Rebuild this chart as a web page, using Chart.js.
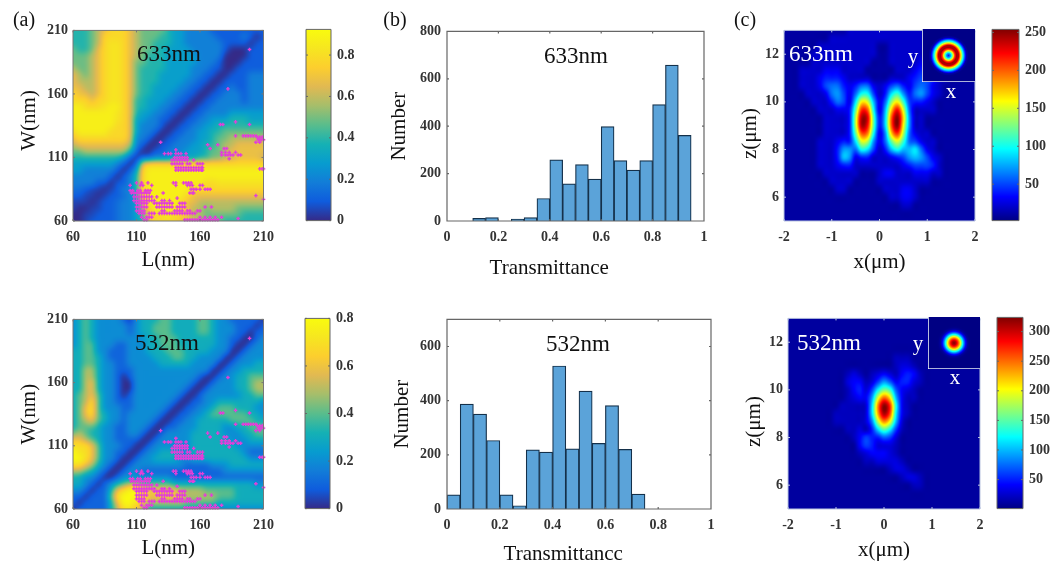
<!DOCTYPE html>
<html><head><meta charset="utf-8">
<script src="https://cdn.jsdelivr.net/npm/chart.js@4"></script>
<style>
html,body{margin:0;padding:0;background:#fff;width:1051px;height:567px;overflow:hidden}
#stage{position:relative;width:1051px;height:567px;filter:blur(.45px)}
#stage canvas{position:absolute}
.t{position:absolute;font-family:"Liberation Serif",serif;color:#111;white-space:nowrap;transform:translate(-50%,-50%);line-height:1}
</style></head><body><div id="stage"></div>
<script>
// ---------- histogram data ----------
const binCentres=[0.025,0.075,0.125,0.175,0.225,0.275,0.325,0.375,0.425,0.475,0.525,0.575,0.625,0.675,0.725,0.775,0.825,0.875,0.925,0.975];
const count633=[0,0,11,14,0,8,14,95,258,157,238,177,398,255,215,255,491,658,361,0];
const count532=[52,387,350,253,52,12,218,210,528,222,435,242,382,220,55,0,0,0,0,0];
const histXTicks=[0,0.2,0.4,0.6,0.8,1];
const hist633YTicks=[0,200,400,600,800];
const hist532YTicks=[0,200,400,600];
// ---------- transmittance maps (tenths), rows W=210..60, columns L=60..210 ----------
const lengthNm=[60,65,70,75,80,85,90,95,100,105,110,115,120,125,130,135,140,145,150,155,160,165,170,175,180,185,190,195,200,205,210];
const widthNm=[210,205,200,195,190,185,180,175,170,165,160,155,150,145,140,135,130,125,120,115,110,105,100,95,90,85,80,75,70,65,60];
const mapTicks=[60,110,160,210];
const transmit633=[
[4,4,4,5,6,7,8,8,8,7,6,5,5,5,5,4,3,3,2,2,2,2,1,1,1,1,1,1,1,1,1],
[4,4,4,5,6,8,8,8,8,7,6,5,5,5,4,4,3,3,2,2,2,2,2,1,1,1,1,2,1,0,1],
[4,4,4,5,6,8,8.5,8.5,8,7,6,5,5,4,4,4,3,3,2,2,2,2,2,2,1,1,1,1,0,1,1],
[5,4,4,5,7,8,8.5,8.5,8,7,6,5,5,4,4,3,3,3,3,2,2,2,2,2,1,0,0,0,1,1,1],
[5,5,5,6,7,8,8.5,8.5,8,7,6,5,4,4,4,3,3,3,3,3,2,2,2,2,0,0,0,0,1,1,1],
[5,5,5,6,7,8,8.5,8.5,8,7,5,5,4,4,4,3,3,3,3,3,2,2,2,1,0,0,0,1,1,1,1],
[6,5,5,6,7,8,8.5,8.5,8,7,5,4,4,4,4,3,3,3,3,2,2,2,1,1,0,0,1,1,1,1,1],
[7,6,5,6,7,8,8.5,8.5,8,7,5,4,4,4,3,3,3,3,3,2,2,1,1,0,0,1,1,1,2,2,2],
[7,6,6,6,7,8,8.5,8.5,8,7,5,4,4,4,3,3,3,3,2,2,1,1,0,0,1,1,1,1,2,2,2],
[7,7,6,6,7,8,8.5,8.5,8,7,5,4,4,3,3,3,3,2,2,1,1,0,0,1,1,2,1,1,2,2,2],
[8,7,7,6,7,8,8.5,8.5,8,7,5,4,4,3,3,3,2,2,1,1,0,0,1,1,2,2,2,1,2,2,2],
[8,8,8,7,8,8,8.5,8.5,8,7,4,4,3,3,3,2,2,1,1,0,0,1,1,2,2,2,2,1,2,2,2],
[9,9,8,8,8,8.5,9,9,8,7,4,4,3,3,2,2,1,1,0,0,1,1,2,2,2,2,2,2,2,2,2],
[9,9,9,9,9,9,9,8.5,8,7,4,3,3,2,2,1,1,0,0,1,1,2,2,2,2,3,3,3,3,3,3],
[9,9,9,9,9,9,9,8.5,8,7,3,3,2,2,1,1,0,0,1,1,2,2,3,3,3,4,4,4,3,3,3],
[9,9,9,9,9,9,9,8,8,7,3,2,2,2,1,0,0,1,1,2,2,3,3,4,4,4,4,4,4,4,4],
[8,9,9,9,9,9,8,8,8,7,3,2,2,1,0,0,1,1,2,2,3,3,4,4,5,5,5,5,5,5,5],
[7,8,8,8,8,8,8,8,8,7,2,2,1,0,0,1,1,2,2,2,3,3,4,5,5,6,6,6,6,6,6],
[6,7,7,7,7,7,7,7,7,6,2,1,0,0,1,1,2,2,2,3,3,4,4,5,6,6,7,7,7,7,7],
[5,5,6,6,6,6,6,6,6,4,1,0,0,1,1,2,2,2,3,3,3,4,5,5,6,7,7,7,7,7,7],
[4,4,4,4,4,4,4,4,3,1,0,1,1,2,2,2,3,3,3,3,4,4,5,5,6,6,7,7,7,7,6],
[3,3,3,3,3,3,3,2,1,0,1,7,8,8,8,8,8,8,8,8,8,8,8,8,8,8,8,8,8,8,8],
[3,3,2,2,2,2,2,1,0,1,3,8,9,9,9,9,9,9,9,9,9,9,9,9,9,9,9,9,9,9,9],
[2,2,2,2,2,2,1,0,1,2,4,8,9,9,9,9,9,9,9,9,9,9,9,9,9,9,9,9,9,9,9],
[2,2,2,2,1,1,0,1,1,2,4,8,9,9,9,9,9,9,9,9,9,8,8,8.5,8.5,8.5,8.5,8.5,8.5,8.5,8.5],
[1.5,1.5,1,0.5,0.5,0,0.5,1,2,2,4,8,9,9,9,9,9,9,9,8,8,8,8,8,8,8,8,8,8,8,8],
[1,1,0.5,0.5,0,0.5,1,1,1.5,2,4,8,9,9,9,9,9,9,8,7,7,7,7,7,7,7,7,7,7,7,7],
[0.5,0.5,0.5,0,0.5,1,1,1.5,2,2,3,7,9,9,9,9,9,8,7,7,6,6,6,6,6,6,6,6,6,6,6],
[0.5,0,0,0.5,0.5,1,1,1.5,2,2,3,6,8,9,9,9,9,8,7,6,6,5,6,6,6,6,5,5,5,5,5],
[0,0,0.5,0.5,1,1,1,1.5,2,2,3,5,7,8,8,9,8,8,7,6,6,5,5,5,5,5,5,4,4,4,4],
[0,0,0.5,1,1,1,1,1.5,2,2,3,4,7,8,8,8,8,7,7,6,6,5,5,5,4,4,4,4,4,4,4]];
const transmit532=[
[2,3,4,3,2,2,2,2,1,0,2,3,3,3,4,4,3,3,3,3,4,4,3,2,2,1,1,1,1,1,0],
[2,3,4,3,2,2,2,2,2,1,2,3,3,4,4,4,3,3,3,3,4,4,3,2,2,2,1,1,1,0,1],
[2,3,4,3,2,2,2,2,2,1,2,3,3,4,4,4,3,3,3,3,4,4,3,2,2,2,1,1,0,1,1],
[2,3,4,3,2,2,2,2,2,2,2,2,3,3,4,4,4,3,3,3,3,3,3,2,2,1,1,0,0,1,2],
[2,3,4,4,2,2,2,1,1,2,2,2,3,3,4,4,4,3,3,3,3,3,3,2,2,1,0,0,1,2,2],
[3,3,4,4,2,2,1,1,1,2,2,2,3,3,3,4,4,4,3,3,3,3,2,2,2,0,0,1,2,2,2],
[3,3,4,4,3,2,1,1,1,2,2,2,2,3,3,3,4,4,3,3,2,2,2,2,0,0,1,2,2,2,2],
[3,3,4,4,3,2,2,1,1,2,2,2,2,2,3,3,3,3,3,2,2,2,2,0,0,1,2,2,2,3,3],
[3,3,5,5,3,2,2,1,1,1,2,2,2,2,2,2,2,2,2,2,2,2,0,0,1,2,2,3,3,3,3],
[3,3,5,5,3,2,2,1,0,1,2,2,2,2,2,2,2,2,2,2,1,0,0,1,2,2,3,3,4,4,4],
[3,3,5,6,3,2,2,1,0,0,2,2,2,2,2,2,2,2,2,1,0,0,1,2,2,2,3,3,4,5,5],
[3,3,5,6,3,2,2,1,0,0,2,2,2,2,2,2,2,2,1,0,0,1,2,2,2,2,3,3,4,5,5],
[3,4,5,6,4,2,2,1,0,1,2,2,2,2,2,2,2,1,0,0,1,2,2,2,2,2,2,3,3,4,4],
[3,4,5,7,4,2,2,1,1,1,2,2,2,2,2,2,1,0,0,1,1,2,2,3,3,3,3,3,3,3,2],
[3,4,6,7,4,2,2,2,1,1,2,2,2,2,2,1,0,0,1,1,2,2,3,4,4,4,3,3,3,2,2],
[3,4,6,7,4,3,2,2,1,2,2,2,2,2,1,0,0,1,1,2,2,3,4,4,4,4,4,4,3,3,2],
[3,4,5,6,4,3,2,2,1,2,2,2,2,1,0,0,1,1,2,2,3,3,3,3,3,4,4,4,4,3,3],
[3,4,4,4,3,2,2,1,1,2,2,2,1,0,0,1,1,2,2,2,3,3,3,3,2,2,3,3,4,4,4],
[4,5,4,3,3,2,2,1,1,2,2,1,0,0,1,2,2,2,2,3,3,3,3,3,2,2,2,3,3,4,4],
[6,6,5,4,3,2,2,1,1,1,1,0,0,1,2,2,2,2,2,3,3,3,3,3,3,2,2,2,3,3,3],
[7,7,7,6,4,2,2,2,1,1,0,0,1,2,2,2,2,2,2,3,3,3,3,3,3,3,2,2,2,2,2],
[8,7,7,6,4,2,2,1,1,0,0,1,2,2,3,3,3,2,2,3,3,3,3,3,3,3,3,2,1,1,1],
[8,8,7,6,4,2,2,1,0,0,1,2,2,3,3,3,3,2,2,3,3,3,3,3,3,3,3,3,2,2,2],
[7,7,6,5,3,2,1,0,0,1,2,2,2,2,2,2,2,2,1,1,1,1,2,2,2,3,3,3,3,3,3],
[5,5,4,3,2,1,0,0,1,2,2,1,1,1,1,1,1,1,1,1,1,1,1,1,2,2,2,2,2,2,2],
[3,3,2,2,1,0,0,1,2,2,2,2,2,2,2,2,1,1,1,1,1,1,1,1,1,1,1,1,1,1,1],
[3,3,2,1,0,1,2,3,4,5,5,4,4,4,4,4,3,3,3,3,3,3,3,3,3,3,3,3,3,2,2],
[2,2,1,0,1,1,3,6,7,8,8,7,6,6,6,6,6,5,5,5,5,4,4,4,4,4,3,3,3,3,3],
[1,1,0,1,1,1,4,7,8,8,8,7,6,6,6,6,6,6,5,5,5,5,5,4,4,4,3,3,3,3,3],
[1,0,1,1,1,1,3,6,8,8,7,6,5,5,5,5,5,5,4,4,4,4,4,3,3,3,3,3,3,3,3],
[0,1,1,1,1,1,3,5,7,7,6,5,3,3,3,3,3,3,3,3,3,2,2,2,2,2,2,2,2,2,2]];
// selected designs: [W, [L, L, ...]]
const selectedDesigns=[
[61,[116,118,148,150,152,154,156,158,160,162,164,166,168,170,172,174]],[62,[190]],
[63,[114,118,120,122,160,164,168,172,177]],
[66,[112,114,116,120,122,124,128,130,132,134,136,138,140,142,144,146,148,150,152,154,156]],
[68,[110,112,114,116,130,132,140,142,144,146,150,152,158,160]],
[71,[110,112,114,116,118,126,128,130,132,134,136,138,142,144,146,148,164,169]],
[74,[110,112,114,116,118,124,126,128,130,132,134,136,138,144,146,148]],
[76,[108,110,112,114,116,118,120,122,124,130,132,136]],[78,[142]],[77,[210]],
[79,[108,110,112,114,116,118,120,122,126]],[80,[204]],
[82,[106,108,110,112,114,116,118,120,131,152,154,155]],
[84,[105,107,111,113,117,119,121]],
[85,[153,155,157,160,164,166,168]],
[88,[105,113,115,122,141,150,152,154,160,162]],
[90,[110,114,119,139,141,147,149,151,153]],
[100,[141,143,145,147,149,151,153,155,157,159,161,162]],[101,[207,209,210]],
[102,[141,143,145,147,149,151,153,155,157,159,161,162]],
[105,[138,140,142,144,146,150,152,158,160,162]],
[108,[138,140,142,144,146,148,150,155]],[109,[183]],
[110,[140,142,144,146,148,150]],
[112,[177,180,182,184,186,190,192]],
[113,[132,135,137,141,143,145,149]],
[114,[177,180,183,188]],[116,[141]],
[117,[168,179,181]],[120,[166,174]],[122,[129,204,207]],
[124,[206,208,210]],[126,[205,207,209]],
[127,[188,194,196,198,200,202,204]],
[136,[176,178,199]],[138,[188]],[164,[182]],[195,[199]]];
// ---------- focal field maps (tens of counts), rows z=13..5, columns x=-2..2 ----------
const fieldX=[-2,-1.875,-1.75,-1.625,-1.5,-1.375,-1.25,-1.125,-1,-0.875,-0.75,-0.625,-0.5,-0.375,-0.25,-0.125,0,0.125,0.25,0.375,0.5,0.625,0.75,0.875,1,1.125,1.25,1.375,1.5,1.625,1.75,1.875,2];
const fieldZ=[13,12.667,12.333,12,11.667,11.333,11,10.667,10.333,10,9.667,9.333,9,8.667,8.333,8,7.667,7.333,7,6.667,6.333,6,5.667,5.333,5];
const fieldXTicks=[-2,-1,0,1,2];
const fieldZTicks=[6,8,10,12];
const field633=[
[1,1,1,1,1,1,1,1,1,1,1,2,2,2,2,2,2,2,2,2,2,2,2,2,2,2,2,2,2,2,2,2,2],
[1,1,1,1,1,1,1,1,2,2,2,2,2,2,2,2,2,2,2,2,2,2,2,2,2,2,2,2,2,2,2,2,2],
[1,1,1,1,1,1,2,2,2,2,2,2,2,2,2,2,1,1,2,2,2,2,2,2,2,2,2,2,2,2,2,2,2],
[1,1,1,1,1,2,2,2,2,2,2,2,2,2,2,2,1,1,2,2,2,2,2,2,2,2,2,2,2,2,2,2,2],
[1,1,1,1,1,2,2,2,2,2,2,2,2,2,2,1,1,1,2,2,2,2,2,3,3,3,2,2,2,2,2,2,2],
[1,1,1,2,2,2,2,3,3,3,2,2,2,2,1,1,1,1,1,2,2,2,3,4,4,3,2,2,2,1,1,1,1],
[1,1,1,2,2,2,3,4,4,4,3,2,2,2,2,1,1,1,2,2,2,3,4,5,5,4,2,2,1,1,1,1,1],
[1,1,1,2,2,2,3,5,6,6,4,3,4,6,6,3,2,3,5,6,4,3,5,6,5,3,2,1,1,1,1,1,1],
[1,1,1,1,2,2,2,3,6,7,5,3,6,10,10,5,2,4,9,11,7,4,6,7,5,3,2,1,1,1,1,1,1],
[1,1,1,1,1,2,2,2,4,6,5,3,9,16,15,8,3,6,13,16,11,5,4,4,3,2,1,1,1,1,1,1,1],
[1,1,1,1,1,1,2,2,2,3,3,4,12,21,20,10,3,8,17,22,15,6,2,2,2,2,1,1,1,1,1,1,1],
[1,1,1,1,1,1,1,2,2,2,2,4,14,24,23,12,4,9,20,25,17,7,2,2,1,1,1,1,1,1,1,1,1],
[1,1,1,1,1,1,1,2,2,2,2,4,14,24,22,12,4,9,20,25,16,7,2,2,1,1,1,1,1,1,1,1,1],
[1,1,1,1,1,1,1,2,2,2,2,4,12,20,19,10,3,7,17,21,14,6,3,2,2,1,1,1,1,1,1,1,1],
[1,1,1,1,1,1,2,2,2,3,4,4,9,15,14,7,3,6,12,15,11,6,5,3,2,2,1,1,1,1,1,1,1],
[1,1,1,1,1,1,2,2,2,4,7,7,6,10,9,5,2,4,8,10,8,8,9,6,3,2,1,1,1,1,1,1,1],
[1,1,1,1,1,1,2,2,2,4,8,7,3,4,4,2,2,2,3,4,5,7,8,7,5,3,2,1,1,1,1,1,1],
[1,1,1,1,1,1,2,2,2,3,4,4,2,2,2,2,2,2,2,2,3,4,5,5,5,4,2,1,1,1,1,1,1],
[1,1,1,1,1,1,1,2,2,2,2,2,2,1,1,1,2,3,3,2,2,2,3,3,3,2,2,1,1,1,1,1,1],
[1,1,1,1,1,1,1,1,2,2,2,2,1,1,1,1,2,2,2,2,2,2,2,2,2,1,1,1,1,1,1,1,1],
[1,1,1,1,1,1,1,1,1,2,2,1,1,1,1,1,1,2,2,2,3,3,2,1,1,1,1,1,1,1,1,1,1],
[1,1,1,1,1,1,1,1,1,1,1,1,1,1,1,1,1,1,2,2,3,3,2,1,1,1,1,1,1,1,1,1,1],
[1,1,1,1,1,1,1,1,1,1,1,1,1,1,1,1,1,1,1,1,2,2,1,1,1,1,1,1,1,1,1,1,1],
[1,1,1,1,1,1,1,1,1,1,1,1,1,1,1,1,1,1,1,1,1,1,1,1,1,1,1,1,1,1,1,1,1],
[1,1,1,1,1,1,1,1,1,1,1,1,1,1,1,1,1,1,1,1,1,1,1,1,1,1,1,1,1,1,1,1,1]];
const field532=[
[1,1,1,1,1,1,1,1,1,1,1,1,1,1,1,1,1,1,1,1,1,1,1,1,1,1,1,1,1,1,1,1,1],
[1,1,1,1,1,1,1,1,1,1,1,1,1,1,1,1,1,1,1,1,1,1,1,1,1,1,1,1,1,1,1,1,1],
[1,1,1,1,1,1,1,1,1,1,1,1,1,1,1,1,1,1,1,1,1,1,1,1,1,1,1,1,1,1,1,1,1],
[1,1,1,1,1,1,1,1,1,1,1,1,1,1,1,1,1,1,1,1,1,1,1,1,1,1,1,1,1,1,1,1,1],
[1,1,1,1,1,1,1,1,1,1,1,1,1,1,1,1,1,1,1,1,1,1,1,1,1,1,1,1,1,1,1,1,1],
[1,1,1,1,1,1,1,1,1,1,1,1,1,1,1,1,1,1,2,2,2,1,1,1,1,1,1,1,1,1,1,1,1],
[1,1,1,1,1,1,1,1,1,1,1,1,1,1,1,1,1,1,2,3,3,2,1,1,1,1,1,1,1,1,1,1,1],
[1,1,1,1,1,1,1,1,1,1,2,3,2,1,2,3,4,3,2,4,5,4,2,1,1,1,1,1,1,1,1,1,1],
[1,1,1,1,1,1,1,1,1,1,3,4,4,2,3,6,9,7,4,5,5,3,2,1,1,1,1,1,1,1,1,1,1],
[1,1,1,1,1,1,1,1,1,1,2,4,5,3,6,12,16,14,7,4,3,2,1,1,1,1,1,1,1,1,1,1,1],
[1,1,1,1,1,1,1,1,1,1,2,3,4,4,9,19,25,21,10,4,2,2,1,1,1,1,1,1,1,1,1,1,1],
[1,1,1,1,1,1,1,1,1,2,2,2,2,3,11,24,32,27,13,4,2,1,1,1,1,1,1,1,1,1,1,1,1],
[1,1,1,1,1,1,1,1,2,2,2,2,2,3,11,23,31,26,12,4,2,1,1,1,1,1,1,1,1,1,1,1,1],
[1,1,1,1,1,1,1,1,2,2,2,2,2,3,8,18,24,20,10,3,1,1,1,1,1,1,1,1,1,1,1,1,1],
[1,1,1,1,1,1,1,1,1,1,2,2,3,2,5,11,15,12,6,2,1,1,1,1,1,1,1,1,1,1,1,1,1],
[1,1,1,1,1,1,1,1,1,1,1,2,4,6,5,5,7,6,3,1,1,1,1,1,1,1,1,1,1,1,1,1,1],
[1,1,1,1,1,1,1,1,1,1,1,1,4,6,5,3,3,3,2,1,1,1,1,1,1,1,1,1,1,1,1,1,1],
[1,1,1,1,1,1,1,1,1,1,1,1,2,3,4,4,4,3,2,1,1,1,1,1,1,1,1,1,1,1,1,1,1],
[1,1,1,1,1,1,1,1,1,1,1,1,1,2,2,3,3,3,3,2,1,1,1,1,1,1,1,1,1,1,1,1,1],
[1,1,1,1,1,1,1,1,1,1,1,1,1,1,1,1,1,2,3,3,2,1,1,1,1,1,1,1,1,1,1,1,1],
[1,1,1,1,1,1,1,1,1,1,1,1,1,1,1,1,1,1,1,2,3,3,2,1,1,1,1,1,1,1,1,1,1],
[1,1,1,1,1,1,1,1,1,1,1,1,1,1,1,1,1,1,1,1,1,2,2,1,1,1,1,1,1,1,1,1,1],
[1,1,1,1,1,1,1,1,1,1,1,1,1,1,1,1,1,1,1,1,1,1,1,1,1,1,1,1,1,1,1,1,1],
[1,1,1,1,1,1,1,1,1,1,1,1,1,1,1,1,1,1,1,1,1,1,1,1,1,1,1,1,1,1,1,1,1],
[1,1,1,1,1,1,1,1,1,1,1,1,1,1,1,1,1,1,1,1,1,1,1,1,1,1,1,1,1,1,1,1,1]];
// ---------- inset radial profiles: radius (fraction of half-width) vs counts ----------
const insetRadius=[0,0.08,0.15,0.23,0.3,0.38,0.46,0.53,0.61,0.68,0.76,1];
const inset633=[40,75,130,205,245,240,170,110,55,12,3,3];
const inset532=[324,305,270,215,150,85,35,10,3,2,1,1];
// ---------- colour bars ----------
const bar633Ticks=[0,0.2,0.4,0.6,0.8];
const bar532Ticks=[0,0.2,0.4,0.6,0.8];
const barField633Ticks=[50,100,150,200,250];
const barField532Ticks=[50,100,150,200,250,300];

const parula=[[53,42,135],[15,92,221],[18,125,216],[7,156,207],[21,177,180],[89,189,140],[165,190,107],[225,185,82],[252,206,46],[246,230,32],[249,251,14]];
const jet=[[0,0,131],[0,0,255],[0,128,255],[0,255,255],[128,255,128],[255,255,0],[255,128,0],[255,0,0],[128,0,0]];
function cmap(stops,t){t=Math.max(0,Math.min(1,t))*(stops.length-1);const i=Math.min(stops.length-2,Math.floor(t)),f=t-i;
  return [0,1,2].map(k=>stops[i][k]+(stops[i+1][k]-stops[i][k])*f);}
function cubic(p0,p1,p2,p3,t){return p1+0.5*t*(p2-p0+t*(2*p0-5*p1+4*p2-p3+t*(3*(p1-p2)+p3-p0)));}
function bspline(p0,p1,p2,p3,t){const u=1-t;return (u*u*u*p0+(3*t*t*t-6*t*t+4)*p1+(-3*t*t*t+3*t*t+3*t+1)*p2+t*t*t*p3)/6;}
function sampleGrid(g,fx,fy,kernel){
  const R=g.length,C=g[0].length,iy=Math.floor(fy),ix=Math.floor(fx),ty=fy-iy,tx=fx-ix,col=[];
  for(let r=-1;r<=2;r++){const row=g[Math.max(0,Math.min(R-1,iy+r))];
    const at=c=>row[Math.max(0,Math.min(C-1,c))];
    col.push(kernel(at(ix-1),at(ix),at(ix+1),at(ix+2),tx));}
  return kernel(col[0],col[1],col[2],col[3],ty);
}
const shadePlugin={id:'shade',beforeDatasetsDraw(chart){
  const o=chart.canvas.$shade;if(!o)return;
  const a=chart.chartArea,w=Math.round(a.right-a.left),h=Math.round(a.bottom-a.top);
  const off=document.createElement('canvas');off.width=w;off.height=h;
  const c=off.getContext('2d'),im=c.createImageData(w,h);
  const sx=chart.scales.x,sy=chart.scales.y;
  for(let j=0;j<h;j++){const yv=sy.getValueForPixel(a.top+j+.5);
    for(let i=0;i<w;i++){const xv=sx.getValueForPixel(a.left+i+.5);
      const rgb=cmap(o.stops,(o.sample(xv,yv)-o.vmin)/(o.vmax-o.vmin));const k=4*(j*w+i);
      im.data[k]=rgb[0];im.data[k+1]=rgb[1];im.data[k+2]=rgb[2];im.data[k+3]=255;}}
  c.putImageData(im,0,0);chart.ctx.drawImage(off,a.left,a.top);
}};
const framePlugin={id:'frame',afterDraw(chart){
  const o=chart.canvas.$frame;if(!o)return;
  const a=chart.chartArea,c=chart.ctx;c.save();c.strokeStyle=o.color;c.lineWidth=o.width||1;
  c.beginPath();
  if(o.edges){for(const e of o.edges){
      if(e==='left'){c.moveTo(a.left,a.top);c.lineTo(a.left,a.bottom);}
      if(e==='bottom'){c.moveTo(a.left,a.bottom);c.lineTo(a.right,a.bottom);}}}
  else c.rect(a.left,a.top,a.right-a.left,a.bottom-a.top);
  const X=chart.scales.x,Y=chart.scales.y;
  if(!o.edges&&!o.noX&&X&&X.options.display!==false)for(const t of X.ticks){const p=X.getPixelForValue(t.value);
    c.moveTo(p,a.bottom);c.lineTo(p,a.bottom-2);c.moveTo(p,a.top);c.lineTo(p,a.top+2);}
  if(!o.edges&&Y&&Y.options.display!==false)for(const t of Y.ticks){const p=Y.getPixelForValue(t.value);
    c.moveTo(a.left,p);c.lineTo(a.left+2,p);c.moveTo(a.right,p);c.lineTo(a.right-2,p);}
  c.stroke();c.restore();
}};
Chart.register(shadePlugin,framePlugin);
const stage=document.getElementById('stage');
const TICK={family:'"Liberation Serif",serif',size:14,weight:'bold'};
const TITLE={family:'"Liberation Serif",serif',size:21};
function canvasFor(r,m,shade,frame){const cv=document.createElement('canvas');
  cv.width=r.x1-r.x0+m.l+m.r;cv.height=r.y1-r.y0+m.t+m.b;
  cv.style.left=(r.x0-m.l)+'px';cv.style.top=(r.y0-m.t)+'px';
  cv.style.width=cv.width+'px';cv.style.height=cv.height+'px';
  cv.$shade=shade;cv.$frame=frame;stage.appendChild(cv);return cv;}
function axis(min,max,ticks,title,size,pad){
  const s={type:'linear',min,max,grid:{display:false,drawTicks:false},border:{display:false},
    afterBuildTicks:a=>{a.ticks=ticks.map(v=>({value:v}));},
    afterFit:a=>{if(a.isHorizontal())a.height=size;else a.width=size;},
    ticks:{color:'#333',font:TICK,padding:pad,autoSkip:false,maxRotation:0,minRotation:0,callback:v=>String(v)}};
  if(title)s.title={display:true,text:title,font:TITLE,color:'#111',padding:0};
  return s;
}
function base(m){return {responsive:false,animation:false,events:[],devicePixelRatio:1,
  layout:{padding:{left:0,right:m.r,top:m.t,bottom:0}}};}
function gridPoints(xs,ys,g){const out=[];ys.forEach((y,j)=>xs.forEach((x,i)=>out.push({x,y,v:g[j][i]})));return out;}
function gridSampler(xs,ys,g,scale,kernel){const dx=xs[1]-xs[0],dy=ys[1]-ys[0];
  return (x,y)=>scale*sampleGrid(g,(x-xs[0])/dx,(y-ys[0])/dy,kernel);}

function heat(r,m,o){
  const ds=[{type:'scatter',label:o.label,data:gridPoints(o.xs,o.ys,o.grid),pointRadius:0}];
  if(o.marks)ds.push({type:'scatter',label:'selected',data:o.marks,clip:false,pointStyle:'cross',pointRadius:1.8,pointBorderWidth:1.4,
     pointBorderColor:'#e33fd9',pointBackgroundColor:'#e33fd9'});
  const options=base(m);
  options.scales={x:axis(o.xr[0],o.xr[1],o.xt,o.xTitle,m.b,8),y:axis(o.yr[0],o.yr[1],o.yt,o.yTitle,m.l,5)};
  options.plugins={legend:{display:false},tooltip:{enabled:false}};
  new Chart(canvasFor(r,m,{sample:gridSampler(o.xs,o.ys,o.grid,o.scale,o.kernel),stops:o.stops,vmin:o.vmin,vmax:o.vmax},{color:o.frame}),{type:'scatter',data:{datasets:ds},options});
}
function colorbar(r,o){
  const m={l:2,r:o.mr||40,t:14,b:14};
  const options=base(m);
  options.layout.padding={left:m.l,right:0,top:10,bottom:0};
  const grad=c=>{const a=c.chart.chartArea;if(!a)return '#000';
    const g=c.chart.ctx.createLinearGradient(0,a.bottom,0,a.top);
    o.stops.forEach((s,i)=>g.addColorStop(i/(o.stops.length-1),`rgb(${s[0]},${s[1]},${s[2]})`));return g;};
  options.scales={x:{type:'category',offset:true,grid:{display:false,drawTicks:false},border:{display:false},ticks:{display:false},afterFit:a=>{a.height=10;}},
    y:Object.assign(axis(o.min,o.max,o.ticks,null,m.r,6),{position:'right'})};
  options.plugins={legend:{display:false},tooltip:{enabled:false}};
  new Chart(canvasFor(r,m,null,{color:o.frame||'#666',noX:true}),{type:'bar',data:{labels:['scale'],datasets:[{data:[[o.min,o.max]],backgroundColor:grad,barPercentage:1,categoryPercentage:1,borderWidth:0,borderSkipped:false}]},options});
}
function hist(r,m,o){
  const options=base(m);
  options.scales={x:Object.assign(axis(0,1,histXTicks,o.xTitle,m.b,8),{offset:false}),y:axis(0,o.ymax,o.yt,'Number',m.l,6)};
  options.plugins={legend:{display:false},tooltip:{enabled:false}};
  new Chart(canvasFor(r,m,null,{color:'#666',width:1.2}),{type:'bar',data:{datasets:[{label:o.label,
    data:binCentres.map((x,i)=>({x,y:o.values[i]})),backgroundColor:'#5ba3d9',borderColor:'#14304a',borderWidth:1.2,
    barPercentage:1,categoryPercentage:1,grouped:false}]},options});
}
function inset(r,values,vmax){
  const m={l:0,r:0,t:0,b:0};
  const options=base(m);
  options.scales={x:{display:false,type:'linear',min:-1,max:1},y:{display:false,type:'linear',min:-1,max:1}};
  const sample=(x,y)=>{const d=Math.hypot(x,y);let i=0;while(i<insetRadius.length-2&&insetRadius[i+1]<d)i++;
    const f=Math.min(1,(d-insetRadius[i])/(insetRadius[i+1]-insetRadius[i]));return values[i]+(values[i+1]-values[i])*f;};
  options.plugins={legend:{display:false},tooltip:{enabled:false}};
  new Chart(canvasFor(r,m,{sample,stops:jet,vmin:2,vmax},{color:'#e8eef8',width:1.6,edges:['left','bottom']}),{type:'scatter',data:{datasets:[{data:insetRadius.map((x,i)=>({x,y:0,v:values[i]})),pointRadius:0}]},options});
}
function label(text,x,y,size,color){const d=document.createElement('div');d.className='t';d.textContent=text;
  d.style.left=x+'px';d.style.top=y+'px';d.style.fontSize=size+'px';if(color)d.style.color=color;stage.appendChild(d);}

const marks=[];selectedDesigns.forEach(([w,ls])=>ls.forEach(l=>marks.push({x:l,y:w})));

// (a)
heat({x0:73,x1:266,y0:29,y1:221},{l:56,r:16,t:12,b:52},{label:'633nm',xs:lengthNm,ys:widthNm,grid:transmit633,scale:0.097,kernel:bspline,stops:parula,vmin:0,vmax:0.924,
  xr:[60,210],yr:[60,210],xt:mapTicks,yt:mapTicks,xTitle:'L(nm)',yTitle:'  W(nm)',frame:'#777',marks});
heat({x0:73,x1:266,y0:318,y1:509},{l:56,r:16,t:12,b:52},{label:'532nm',xs:lengthNm,ys:widthNm,grid:transmit532,scale:0.1,kernel:bspline,stops:parula,vmin:0,vmax:0.8,
  xr:[60,210],yr:[60,210],xt:mapTicks,yt:mapTicks,xTitle:'L(nm)',yTitle:'W(nm)',frame:'#777',marks});
colorbar({x0:306,x1:331,y0:29,y1:221},{min:0,max:0.924,ticks:bar633Ticks,stops:parula});
colorbar({x0:305,x1:330,y0:318,y1:509},{min:0,max:0.8,ticks:bar532Ticks,stops:parula});
// (b)
hist({x0:447,x1:704,y0:29,y1:221},{l:60,r:12,t:12,b:60},{label:'633nm',values:count633,ymax:800,yt:hist633YTicks,xTitle:'Transmittance'+' '.repeat(10)});
hist({x0:447,x1:711,y0:317,y1:509},{l:57,r:12,t:12,b:58},{label:'532nm',values:count532,ymax:700,yt:hist532YTicks,xTitle:'Transmittancc'+' '.repeat(6)});
// (c)
heat({x0:784,x1:975,y0:29,y1:221},{l:46,r:12,t:12,b:54},{label:'633nm',xs:fieldX,ys:fieldZ,grid:field633,scale:10,kernel:cubic,stops:jet,vmin:2,vmax:254,
  xr:[-2,2],yr:[5,13],xt:fieldXTicks,yt:fieldZTicks,xTitle:'x(μm)',yTitle:'z(μm)   ',frame:'#b9c4e0'});
heat({x0:788,x1:980,y0:317,y1:509},{l:46,r:12,t:12,b:54},{label:'532nm',xs:fieldX,ys:fieldZ,grid:field532,scale:10,kernel:cubic,stops:jet,vmin:1,vmax:324,
  xr:[-2,2],yr:[5,13],xt:fieldXTicks,yt:fieldZTicks,xTitle:'x(μm)',yTitle:'z(μm)   ',frame:'#b9c4e0'});
colorbar({x0:992,x1:1019,y0:29,y1:221},{min:2,max:254,ticks:barField633Ticks,stops:jet,mr:32});
colorbar({x0:997,x1:1023,y0:317,y1:509},{min:1,max:324,ticks:barField532Ticks,stops:jet,mr:28});
inset({x0:922,x1:975,y0:29,y1:82},inset633,254);
inset({x0:928,x1:980,y0:317,y1:369},inset532,324);

// annotations
label('(a)',24,19,20);label('(b)',395,19,20);label('(c)',745,19,20);
label('633nm',169,53,23);label('532nm',167,342,23);
label('633nm',576,55,23);label('532nm',578,343,23);
label('633nm',821,53,23,'#fff');label('532nm',829,342,23,'#fff');
label('y',913,56,21,'#fff');label('x',951,91,21,'#fff');
label('y',918,343,21,'#fff');label('x',955,377,21,'#fff');
</script></body></html>
